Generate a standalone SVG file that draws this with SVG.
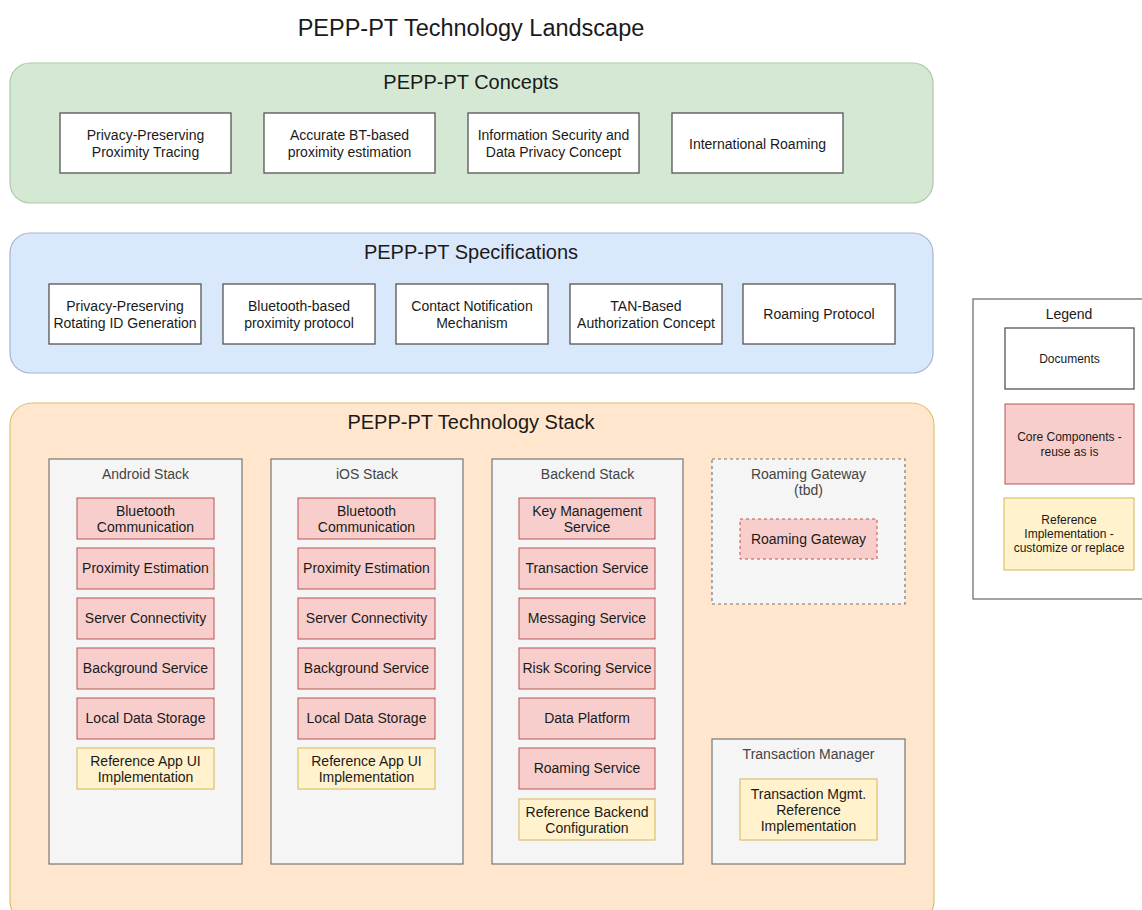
<svg xmlns="http://www.w3.org/2000/svg" width="1142" height="910" viewBox="0 0 1142 910">
<style>
text{font-family:"Liberation Sans",Arial,sans-serif;fill:#1a1a1a;text-anchor:middle}
.h1{font-size:23.5px}
.h2{font-size:20px}
.t{font-size:14px}
.s{font-size:14px;fill:#444}
.l{font-size:12px}
.doc{fill:#ffffff;stroke:#555;stroke-width:1.3}
.core{fill:#f8cecc;stroke:#b85450;stroke-width:1}
.ref{fill:#fff2cc;stroke:#d6b656;stroke-width:1}
.stack{fill:#f5f5f5;stroke:#777;stroke-width:1.2}
</style>
<rect width="1142" height="910" fill="#ffffff"/>
<text class="h1" x="471" y="36">PEPP-PT Technology Landscape</text>

<g id="concepts">
<rect x="10" y="63" width="923" height="140" rx="20" fill="#d5e8d4" stroke="#a9cba5" stroke-width="1.2"/>
<text class="h2" x="471" y="89">PEPP-PT Concepts</text>
</g>
<g id="c1"><rect class="doc" x="60" y="113" width="171" height="60"/><text class="t" x="145.5" y="140">Privacy-Preserving</text><text class="t" x="145.5" y="157">Proximity Tracing</text></g>
<g id="c2"><rect class="doc" x="264" y="113" width="171" height="60"/><text class="t" x="349.5" y="140">Accurate BT-based</text><text class="t" x="349.5" y="157">proximity estimation</text></g>
<g id="c3"><rect class="doc" x="468" y="113" width="171" height="60"/><text class="t" x="553.5" y="140">Information Security and</text><text class="t" x="553.5" y="157">Data Privacy Concept</text></g>
<g id="c4"><rect class="doc" x="672" y="113" width="171" height="60"/><text class="t" x="757.5" y="149">International Roaming</text></g>

<g id="specs">
<rect x="10" y="233" width="923" height="140" rx="20" fill="#dae8fc" stroke="#9fb6d6" stroke-width="1.2"/>
<text class="h2" x="471" y="259">PEPP-PT Specifications</text>
</g>
<g id="s1"><rect class="doc" x="49" y="284" width="152" height="60"/><text class="t" x="125" y="311">Privacy-Preserving</text><text class="t" x="125" y="328">Rotating ID Generation</text></g>
<g id="s2"><rect class="doc" x="223" y="284" width="152" height="60"/><text class="t" x="299" y="311">Bluetooth-based</text><text class="t" x="299" y="328">proximity protocol</text></g>
<g id="s3"><rect class="doc" x="396" y="284" width="152" height="60"/><text class="t" x="472" y="311">Contact Notification</text><text class="t" x="472" y="328">Mechanism</text></g>
<g id="s4"><rect class="doc" x="570" y="284" width="152" height="60"/><text class="t" x="646" y="311">TAN-Based</text><text class="t" x="646" y="328">Authorization Concept</text></g>
<g id="s5"><rect class="doc" x="743" y="284" width="152" height="60"/><text class="t" x="819" y="319">Roaming Protocol</text></g>

<g id="techstack">
<rect x="10" y="403" width="924" height="520" rx="22" fill="#ffe6cc" stroke="#e0c070" stroke-width="1.2"/>
<text class="h2" x="471" y="429">PEPP-PT Technology Stack</text>
</g>

<g id="android">
<rect class="stack" x="49" y="459" width="193" height="405"/>
<text class="s" x="145.5" y="479">Android Stack</text>
</g>
<g id="a1"><rect class="core" x="77" y="498" width="137" height="41"/><text class="t" x="145.5" y="516">Bluetooth</text><text class="t" x="145.5" y="532">Communication</text></g>
<g id="a2"><rect class="core" x="77" y="548" width="137" height="41"/><text class="t" x="145.5" y="573">Proximity Estimation</text></g>
<g id="a3"><rect class="core" x="77" y="598" width="137" height="41"/><text class="t" x="145.5" y="623">Server Connectivity</text></g>
<g id="a4"><rect class="core" x="77" y="648" width="137" height="41"/><text class="t" x="145.5" y="673">Background Service</text></g>
<g id="a5"><rect class="core" x="77" y="698" width="137" height="41"/><text class="t" x="145.5" y="723">Local Data Storage</text></g>
<g id="a6"><rect class="ref" x="77" y="748" width="137" height="41"/><text class="t" x="145.5" y="766">Reference App UI</text><text class="t" x="145.5" y="782">Implementation</text></g>

<g id="ios">
<rect class="stack" x="271" y="459" width="192" height="405"/>
<text class="s" x="367" y="479">iOS Stack</text>
</g>
<g id="i1"><rect class="core" x="298" y="498" width="137" height="41"/><text class="t" x="366.5" y="516">Bluetooth</text><text class="t" x="366.5" y="532">Communication</text></g>
<g id="i2"><rect class="core" x="298" y="548" width="137" height="41"/><text class="t" x="366.5" y="573">Proximity Estimation</text></g>
<g id="i3"><rect class="core" x="298" y="598" width="137" height="41"/><text class="t" x="366.5" y="623">Server Connectivity</text></g>
<g id="i4"><rect class="core" x="298" y="648" width="137" height="41"/><text class="t" x="366.5" y="673">Background Service</text></g>
<g id="i5"><rect class="core" x="298" y="698" width="137" height="41"/><text class="t" x="366.5" y="723">Local Data Storage</text></g>
<g id="i6"><rect class="ref" x="298" y="748" width="137" height="41"/><text class="t" x="366.5" y="766">Reference App UI</text><text class="t" x="366.5" y="782">Implementation</text></g>

<g id="backend">
<rect class="stack" x="492" y="459" width="191" height="405"/>
<text class="s" x="587.5" y="479">Backend Stack</text>
</g>
<g id="b1"><rect class="core" x="519" y="498" width="136" height="41"/><text class="t" x="587" y="516">Key Management</text><text class="t" x="587" y="532">Service</text></g>
<g id="b2"><rect class="core" x="519" y="548" width="136" height="41"/><text class="t" x="587" y="573">Transaction Service</text></g>
<g id="b3"><rect class="core" x="519" y="598" width="136" height="41"/><text class="t" x="587" y="623">Messaging Service</text></g>
<g id="b4"><rect class="core" x="519" y="648" width="136" height="41"/><text class="t" x="587" y="673">Risk Scoring Service</text></g>
<g id="b5"><rect class="core" x="519" y="698" width="136" height="41"/><text class="t" x="587" y="723">Data Platform</text></g>
<g id="b6"><rect class="core" x="519" y="748" width="136" height="41"/><text class="t" x="587" y="773">Roaming Service</text></g>
<g id="b7"><rect class="ref" x="519" y="799" width="136" height="41"/><text class="t" x="587" y="817">Reference Backend</text><text class="t" x="587" y="833">Configuration</text></g>

<g id="roaminggw">
<rect class="stack" x="712" y="459" width="193" height="145" stroke-dasharray="3,3"/>
<text class="s" x="808.5" y="479">Roaming Gateway</text>
<text class="s" x="808.5" y="495">(tbd)</text>
</g>
<g id="rg1"><rect class="core" x="740" y="519" width="137" height="40" stroke-dasharray="3,3"/><text class="t" x="808.5" y="544">Roaming Gateway</text></g>

<g id="txmgr">
<rect class="stack" x="712" y="739" width="193" height="125"/>
<text class="s" x="808.5" y="759">Transaction Manager</text>
</g>
<g id="tm1"><rect class="ref" x="740" y="779" width="137" height="61"/><text class="t" x="808.5" y="799">Transaction Mgmt.</text><text class="t" x="808.5" y="815">Reference</text><text class="t" x="808.5" y="831">Implementation</text></g>

<g id="legend">
<rect x="973" y="299" width="180" height="300" fill="#ffffff" stroke="#666" stroke-width="1.2"/>
<text class="t" x="1069" y="319">Legend</text>
</g>
<g id="l1"><rect class="doc" x="1005" y="328" width="129" height="61"/><text class="l" x="1069.5" y="363">Documents</text></g>
<g id="l2"><rect class="core" x="1005" y="404" width="129" height="80"/><text class="l" x="1069.5" y="441">Core Components -</text><text class="l" x="1069.5" y="456">reuse as is</text></g>
<g id="l3"><rect class="ref" x="1004" y="498" width="130" height="72"/><text class="l" x="1069" y="524">Reference</text><text class="l" x="1069" y="538">Implementation -</text><text class="l" x="1069" y="552">customize or replace</text></g>

<g id="connectors"></g>
</svg>
